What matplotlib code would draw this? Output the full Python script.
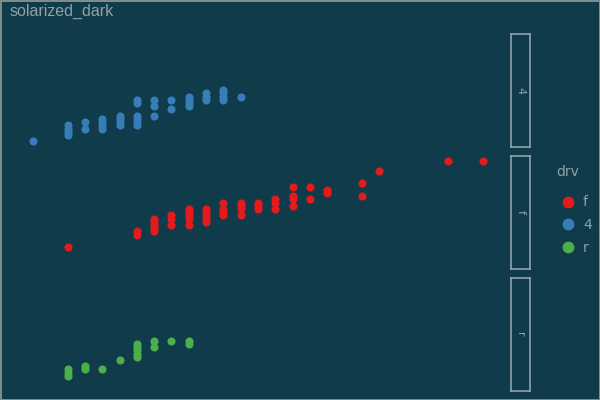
import numpy as np
import matplotlib
matplotlib.use('Agg')
import matplotlib.pyplot as plt
from matplotlib.lines import Line2D

# cty / hwy pairs per drive type (distinct points)
cty_4 = [9, 11, 11, 11, 11, 12, 12, 13, 13, 13, 13, 14, 14, 14, 14,
         15, 15, 15, 15, 15, 15, 16, 16, 16, 17, 17, 18, 18, 18, 18,
         19, 19, 19, 20, 20, 20, 20, 21]
hwy_4 = [12, 14, 15, 16, 17, 16, 18, 16, 17, 18, 19, 17, 18, 19, 20,
         17, 18, 19, 20, 24, 25, 20, 23, 25, 22, 25, 23, 24, 25, 26,
         25, 26, 27, 25, 26, 27, 28, 26]

cty_f = [11, 15, 15, 16, 16, 16, 16, 16, 17, 17, 17, 18, 18, 18, 18, 18,
         19, 19, 19, 19, 19, 20, 20, 20, 20, 21, 21, 21, 21, 22, 22, 22,
         23, 23, 23, 24, 24, 24, 24, 25, 25, 26, 26, 28, 28, 29, 33, 35]
hwy_f = [17, 21, 22, 22, 23, 24, 25, 26, 24, 26, 27, 24, 26, 27, 28, 29,
         25, 26, 27, 28, 29, 27, 28, 29, 31, 27, 29, 30, 31, 29, 30, 31,
         29, 31, 32, 30, 32, 33, 36, 32, 36, 34, 35, 33, 37, 41, 44, 44]

cty_r = [11, 11, 11, 12, 12, 13, 14, 15, 15, 15, 15, 15, 16, 16, 17, 18, 18]
hwy_r = [15, 16, 17, 17, 18, 17, 20, 21, 22, 23, 24, 25, 24, 26, 26, 25, 26]

drv_levels = ['4', 'f', 'r']
legend_order = ['f', '4', 'r']
colors = {'f': '#E41A1C', '4': '#377EB8', 'r': '#4DAF4A'}
data = {'4': (cty_4, hwy_4), 'f': (cty_f, hwy_f), 'r': (cty_r, hwy_r)}

bg = '#0F3B4A'
txt = '#93A1A1'
W, H = 600, 400

fig = plt.figure(figsize=(6, 4), dpi=100, facecolor=bg)
fig.patch.set_edgecolor('#7f8c8d')
fig.patch.set_linewidth(1.0)

# x / y limits with ggplot-style 5% expansion (shared scales)
xmin, xmax = 9, 35
ymin, ymax = 12, 44
xpad = (xmax - xmin) * 0.05
ypad = (ymax - ymin) * 0.05

rows = [(34, 146.5), (156, 268.5), (278.3, 390.5)]
for lvl, (top, bot) in zip(drv_levels, rows):
    ax = fig.add_axes([10.5 / W, 1 - bot / H, 495 / W, (bot - top) / H])
    ax.set_facecolor(bg)
    x, y = data[lvl]
    ax.scatter(x, y, s=34, color=colors[lvl], linewidths=0, zorder=3)
    ax.set_xlim(xmin - xpad, xmax + xpad)
    ax.set_ylim(ymin - ypad, ymax + ypad)
    ax.axis('off')

    # strip on the right
    sax = fig.add_axes([511 / W, 1 - bot / H, 18.7 / W, (bot - top) / H])
    sax.set_facecolor(bg)
    sax.set_xticks([])
    sax.set_yticks([])
    for sp in sax.spines.values():
        sp.set_color('#8FA3A8')
        sp.set_linewidth(1.2)
    sax.text(0.5, 0.5, lvl, rotation=-90, ha='center', va='center',
             color=txt, fontsize=8, transform=sax.transAxes)

fig.text(10 / W, 1 - 11 / H, 'solarized_dark', color=txt, fontsize=11.5,
         family='Liberation Sans', ha='left', va='center')

# legend
fig.text(556 / W, 1 - 172 / H, 'drv', color=txt, fontsize=10,
         ha='left', va='center')
handles = [Line2D([], [], marker='o', linestyle='', markersize=8.5,
                  markerfacecolor=colors[k], markeredgewidth=0, label=k)
           for k in legend_order]
leg = fig.legend(handles=handles, frameon=False,
                 loc='upper left', bbox_to_anchor=(544 / W, 1 - 183 / H),
                 labelcolor=txt, fontsize=10,
                 handlelength=1.6, handletextpad=0.3, labelspacing=0.62)

fig.savefig('out.png', dpi=100, facecolor=bg, edgecolor=fig.patch.get_edgecolor())
